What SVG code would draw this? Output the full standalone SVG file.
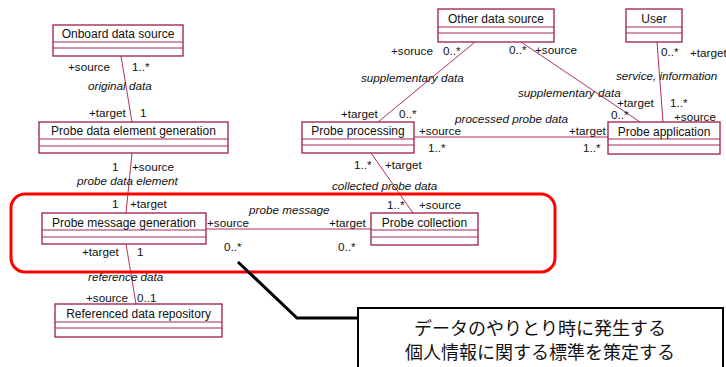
<svg xmlns="http://www.w3.org/2000/svg" width="726" height="367" viewBox="0 0 726 367">
<style>
.box{fill:#fff;stroke:#9e1b4b;stroke-width:1.3}
.row{stroke:#a52a55;stroke-width:1.2}
.name{font-family:"Liberation Sans",Arial,sans-serif;font-size:12px;fill:#111;text-anchor:middle}
.lbl{font-family:"Liberation Sans",Arial,sans-serif;font-size:11.7px;fill:#111}
.it{font-style:italic}
.conn line{stroke:#b3315f;stroke-width:1}
.jp{font-family:"Noto Sans CJK JP","Noto Sans CJK SC",sans-serif;font-size:18px;fill:#111;text-anchor:middle}
</style>
<rect width="726" height="367" fill="#fff"/>
<g id="connectors" class="conn">
<line x1="121" y1="56" x2="132" y2="122"/>
<line x1="132" y1="153" x2="126" y2="213"/>
<line x1="126" y1="244" x2="136" y2="304"/>
<line x1="206" y1="229" x2="371" y2="229"/>
<line x1="371" y1="153" x2="413" y2="213"/>
<line x1="414" y1="137" x2="608" y2="137"/>
<line x1="475" y1="42" x2="378" y2="122"/>
<line x1="521" y1="42" x2="640" y2="122"/>
<line x1="657" y1="42" x2="663" y2="122"/>
</g>
<g id="onboard"><rect class="box" x="53" y="25" width="130" height="31"/><line class="row" x1="53" y1="42" x2="183" y2="42"/><line class="row" x1="53" y1="48" x2="183" y2="48"/><text class="name" x="118" y="38">Onboard data source</text></g>
<g id="pdeg"><rect class="box" x="39" y="122" width="189" height="31"/><line class="row" x1="39" y1="139" x2="228" y2="139"/><line class="row" x1="39" y1="146" x2="228" y2="146"/><text class="name" x="133.5" y="135">Probe data element generation</text></g>
<g id="other"><rect class="box" x="438" y="9" width="116" height="33"/><line class="row" x1="438" y1="27" x2="554" y2="27"/><line class="row" x1="438" y1="33" x2="554" y2="33"/><text class="name" x="496" y="23">Other data source</text></g>
<g id="user"><rect class="box" x="626" y="9" width="56" height="33"/><line class="row" x1="626" y1="27" x2="682" y2="27"/><line class="row" x1="626" y1="33" x2="682" y2="33"/><text class="name" x="654" y="23">User</text></g>
<g id="pproc"><rect class="box" x="302" y="122" width="112" height="31"/><line class="row" x1="302" y1="139" x2="414" y2="139"/><line class="row" x1="302" y1="145" x2="414" y2="145"/><text class="name" x="358" y="135">Probe processing</text></g>
<g id="papp"><rect class="box" x="608" y="122" width="112" height="32"/><line class="row" x1="608" y1="139" x2="720" y2="139"/><line class="row" x1="608" y1="145" x2="720" y2="145"/><text class="name" x="664" y="136">Probe application</text></g>
<g id="pmg"><rect class="box" x="42" y="213" width="164" height="31"/><line class="row" x1="42" y1="230" x2="206" y2="230"/><line class="row" x1="42" y1="237" x2="206" y2="237"/><text class="name" x="124" y="227">Probe message generation</text></g>
<g id="pcol"><rect class="box" x="371" y="213" width="107" height="32"/><line class="row" x1="371" y1="230" x2="478" y2="230"/><line class="row" x1="371" y1="237" x2="478" y2="237"/><text class="name" x="424.5" y="227">Probe collection</text></g>
<g id="rdr"><rect class="box" x="55" y="304" width="167" height="33"/><line class="row" x1="55" y1="322" x2="222" y2="322"/><line class="row" x1="55" y1="328" x2="222" y2="328"/><text class="name" x="138.5" y="318">Referenced data repository</text></g>
<g id="labels">
<text class="lbl" x="68" y="71">+source</text><text class="lbl" x="132" y="71">1..*</text>
<text class="lbl it" x="88" y="90">original data</text>
<text class="lbl" x="89" y="117">+target</text><text class="lbl" x="140" y="117">1</text>
<text class="lbl" x="112" y="171">1</text><text class="lbl" x="132" y="171">+source</text>
<text class="lbl it" x="77" y="185">probe data element</text>
<text class="lbl" x="112" y="208">1</text><text class="lbl" x="130" y="208">+target</text>
<text class="lbl" x="207" y="227">+source</text>
<text class="lbl it" x="249" y="214">probe message</text>
<text class="lbl" x="329" y="227">+target</text>
<text class="lbl" x="224" y="251">0..*</text><text class="lbl" x="338" y="251">0..*</text>
<text class="lbl" x="82" y="256">+target</text><text class="lbl" x="137" y="256">1</text>
<text class="lbl it" x="88" y="281">reference data</text>
<text class="lbl" x="86" y="302">+source</text><text class="lbl" x="137" y="302">0..1</text>
<text class="lbl" x="354" y="169">1..*</text><text class="lbl" x="385" y="169">+target</text>
<text class="lbl it" x="332" y="190">collected probe data</text>
<text class="lbl" x="387" y="209">1..*</text><text class="lbl" x="419" y="209">+source</text>
<text class="lbl" x="391" y="55">+soruce</text><text class="lbl" x="443" y="55">0..*</text>
<text class="lbl it" x="361" y="82">supplementary data</text>
<text class="lbl" x="341" y="118">+target</text><text class="lbl" x="399" y="118">0..*</text>
<text class="lbl" x="509" y="54">0..*</text><text class="lbl" x="535" y="54">+source</text>
<text class="lbl it" x="518" y="97">supplementary data</text>
<text class="lbl" x="617" y="107">+target</text><text class="lbl" x="611" y="119">0..*</text>
<text class="lbl" x="670" y="107">1..*</text><text class="lbl" x="674" y="121">+source</text>
<text class="lbl" x="661" y="56">0..*</text><text class="lbl" x="690" y="57">+target</text>
<text class="lbl it" x="616" y="80">service, information</text>
<text class="lbl it" x="455" y="123">processed probe data</text>
<text class="lbl" x="419" y="135">+source</text><text class="lbl" x="569" y="135">+target</text>
<text class="lbl" x="428" y="152">1..*</text><text class="lbl" x="583" y="152">1..*</text>
</g>
<rect x="11" y="194" width="544" height="78" rx="14" fill="none" stroke="#ff0000" stroke-width="3"/>
<polyline points="238,262 297,318 358,318" fill="none" stroke="#000" stroke-width="3"/>
<g id="callout"><rect x="358" y="308" width="365" height="70" fill="#fff" stroke="#000" stroke-width="2"/>
<text class="jp" x="540" y="335">データのやりとり時に発生する</text>
<text class="jp" x="540" y="359">個人情報に関する標準を策定する</text></g>
</svg>
